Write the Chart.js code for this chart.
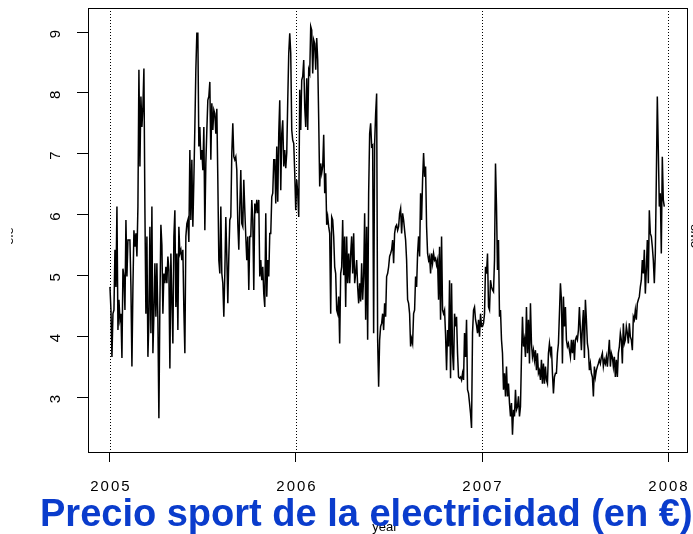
<!DOCTYPE html>
<html>
<head>
<meta charset="utf-8">
<script src="https://cdn.jsdelivr.net/npm/chart.js@4.4.0/dist/chart.umd.min.js"></script>
<style>
html, body { margin: 0; padding: 0; background: #fff; overflow: hidden; }
#wrap { position: relative; width: 693px; height: 534px; }
</style>
</head>
<body>
<div id="wrap"><canvas id="chart" width="693" height="534"></canvas></div>
<script>
// precio spot, una observación cada ~2 días
const yearTicks = [2005, 2006, 2007, 2008];
const priceTicks = [3, 4, 5, 6, 7, 8, 9];
const firstObs = 2005.0;
const lastObs = 2007.98;

const price2005a = [
    4.81, 4.43, 3.66, 4.37, 4.43, 5.42, 4.81, 6.13, 4.10, 4.60,
    4.27, 4.37, 3.64, 5.11, 4.98, 4.43, 5.91, 4.98, 5.58, 5.58,
    5.58, 4.81, 3.50, 4.81, 5.74, 5.47, 5.69, 5.31, 6.13, 8.38,
    6.79, 7.94, 7.44, 7.77, 8.40, 6.07, 4.37, 5.64, 3.66, 4.27,
    5.80, 4.05, 6.13, 3.72, 4.37, 5.20, 4.32, 5.20, 4.27, 2.65,
    4.54, 5.83, 5.50, 4.37, 5.03, 4.87, 5.14, 4.87, 5.31, 5.09,
    3.47, 5.36, 4.60, 3.88, 5.64, 6.07, 4.48, 5.36, 4.10, 5.80,
    5.36, 5.42, 5.25, 5.42, 4.43, 3.72, 5.64, 5.85, 5.91, 5.55,
    7.06, 5.91, 6.90, 5.80, 6.57, 7.44, 8.38, 8.98, 8.98, 7.12,
    7.44, 6.90, 7.06, 6.73, 7.44
];
const price2005b = [
    5.74, 6.84, 7.39, 7.88, 7.94, 8.18, 6.90, 7.83, 7.39, 7.72,
    7.66, 7.33, 7.74, 6.57, 5.25, 5.03, 6.13, 5.03, 4.87, 4.32,
    5.03, 5.96, 5.31, 4.54, 5.31, 5.91, 5.96, 7.01, 7.50, 6.95,
    6.90, 6.95, 6.73, 5.85, 5.42, 6.13, 6.73, 5.85, 5.80, 6.57,
    6.07, 5.64, 5.25, 5.64, 4.76, 5.64, 5.64, 6.24, 5.91, 4.76,
    6.18, 6.02, 6.24, 6.02, 6.24, 4.98, 5.25, 4.92, 5.14, 4.70,
    4.48, 6.02, 4.65, 5.25, 4.98, 5.69, 5.69, 6.29, 6.35, 6.90,
    6.90, 6.18, 7.12, 6.21, 7.33, 7.88, 6.40, 7.33, 7.55, 6.79,
    7.06, 6.76, 7.01, 7.88, 8.65, 8.98, 8.65, 7.39, 7.22, 7.17,
    6.68, 6.07, 6.57, 6.35, 5.96
];
const price2006a = [
    8.05, 7.39, 8.21, 8.27, 8.54, 7.77, 7.44, 8.24, 7.39, 8.38,
    8.32, 9.09, 9.03, 8.32, 8.87, 8.81, 8.38, 8.90, 8.54, 7.55,
    6.46, 6.84, 6.68, 6.79, 7.31, 6.35, 6.68, 5.83, 5.96, 5.80,
    5.69, 4.37, 5.96, 5.91, 5.64, 5.14, 5.03, 4.43, 4.37, 4.65,
    3.88, 5.03, 5.14, 5.91, 5.00, 5.64, 4.48, 5.64, 4.87, 5.36,
    4.87, 5.36, 5.64, 5.03, 5.69, 4.87, 5.03, 5.25, 4.81, 4.54,
    4.87, 4.57, 5.20, 4.60, 4.98, 6.02, 4.27, 5.80, 3.94, 6.35,
    7.33, 7.50, 7.12, 7.14, 4.05, 7.17, 7.66, 7.99, 3.94, 3.17,
    3.94, 4.16, 4.21, 4.37, 4.10, 4.54, 4.32, 4.98, 5.03, 5.14,
    5.31, 5.36, 5.42, 5.58, 5.20
];
const price2006b = [
    5.69, 5.80, 5.83, 5.74, 5.80, 6.02, 6.10, 5.69, 6.02, 5.91,
    5.74, 5.58, 5.25, 4.60, 4.54, 4.37, 3.83, 3.96, 3.88, 4.37,
    4.43, 4.98, 4.81, 5.36, 5.64, 5.31, 6.35, 5.91, 6.57, 7.01,
    6.62, 6.79, 5.80, 5.36, 5.25, 5.31, 5.03, 5.36, 5.20, 5.36,
    5.25, 5.28, 5.17, 5.25, 4.60, 5.47, 4.27, 5.64, 4.43, 4.37,
    4.43, 4.02, 3.44, 4.10, 3.83, 4.92, 3.31, 4.87, 3.72, 3.44,
    4.37, 4.16, 4.32, 3.72, 3.33, 3.31, 3.33, 3.28, 3.39, 3.28,
    4.05, 3.66, 4.27, 3.12, 3.06, 2.90, 2.73, 2.49, 4.05, 4.43,
    4.48, 4.27, 4.18, 4.05, 4.27, 3.99, 4.37, 4.16, 4.16, 4.21,
    4.37, 5.14, 5.03, 5.36, 4.48
];
const price2007a = [
    4.43, 4.92, 4.81, 4.76, 4.73, 5.25, 6.84, 6.13, 5.09, 5.58,
    4.32, 4.43, 3.94, 3.72, 3.12, 3.39, 3.01, 3.50, 3.01, 3.22,
    2.90, 2.68, 2.90, 2.38, 2.79, 2.68, 3.12, 2.79, 2.84, 3.01,
    2.68, 2.84, 3.66, 4.32, 3.83, 3.94, 3.66, 4.48, 3.72, 4.27,
    3.55, 4.54, 3.88, 3.66, 3.77, 3.61, 3.77, 3.44, 3.72, 3.39,
    3.44, 3.28, 3.61, 3.22, 3.55, 3.22, 3.50, 3.28, 3.22, 3.72,
    3.88, 3.72, 3.83, 3.39, 3.06, 3.33, 3.39, 3.39, 3.72, 3.88,
    4.37, 4.87, 4.60, 3.55, 4.65, 4.16, 4.48, 3.94, 3.83, 3.88,
    3.77, 3.66, 3.94, 3.72, 3.94, 3.61, 3.94, 3.99, 3.94, 4.10,
    4.48, 4.10, 3.77, 4.16, 4.43
];
const price2007b = [
    3.64, 4.60, 4.27, 3.88, 3.77, 3.44, 3.55, 3.39, 3.33, 3.01,
    3.50, 3.33, 3.44, 3.50, 3.55, 3.61, 3.55, 3.66, 3.72, 3.50,
    3.61, 3.55, 3.66, 3.50, 3.72, 3.94, 3.50, 3.72, 3.66, 3.50,
    3.66, 3.33, 3.61, 3.33, 3.72, 3.83, 4.05, 3.94, 3.55, 4.21,
    3.88, 3.94, 4.16, 4.05, 3.88, 4.21, 3.99, 3.94, 3.77, 4.32,
    4.27, 4.43, 4.27, 4.54, 4.60, 4.65, 4.81, 4.92, 5.25, 5.03,
    5.42, 4.70, 5.09, 5.58, 4.87, 6.07, 5.69, 5.64, 5.47, 5.25,
    4.87, 5.36, 6.57, 7.94, 7.06, 6.13, 6.35, 5.36, 6.95, 6.24,
    6.13
];

const prices = [].concat(price2005a, price2005b, price2006a, price2006b, price2007a, price2007b);
const step = (lastObs - firstObs) / (prices.length - 1);
const points = prices.map((v, i) => ({ x: firstObs + i * step, y: v }));

const FONT = '"Liberation Sans", Arial, Helvetica, sans-serif';

// ejes estilo R: líneas punteadas en cada año, caja, etiquetas giradas
const rStyle = {
    id: 'rStyle',
    beforeDatasetsDraw(chart) {
        const { ctx, chartArea: a, scales: { x } } = chart;
        ctx.save();
        ctx.strokeStyle = '#000';
        ctx.lineWidth = 1;
        ctx.setLineDash([1, 2]);
        yearTicks.forEach(yr => {
            const px = Math.round(x.getPixelForValue(yr)) + 0.5;
            ctx.beginPath();
            ctx.moveTo(px, a.top);
            ctx.lineTo(px, a.bottom);
            ctx.stroke();
        });
        ctx.restore();
    },
    afterDraw(chart) {
        const { ctx, chartArea: a, scales: { x, y } } = chart;
        ctx.save();
        ctx.strokeStyle = '#000';
        ctx.lineWidth = 1;
        ctx.strokeRect(a.left + 0.5, a.top + 0.5, a.right - a.left, a.bottom - a.top);

        ctx.fillStyle = '#000';
        ctx.font = '15px ' + FONT;
        ctx.letterSpacing = '2px';
        ctx.textAlign = 'center';
        ctx.textBaseline = 'middle';
        yearTicks.forEach(yr => {
            ctx.fillText(String(yr), x.getPixelForValue(yr) + 1, 487);
        });
        priceTicks.forEach(p => {
            ctx.save();
            ctx.translate(56, y.getPixelForValue(p) + 1);
            ctx.rotate(-Math.PI / 2);
            ctx.fillText(String(p), 0, 0);
            ctx.restore();
        });
        ctx.letterSpacing = '0px';

        // títulos de eje recortados en los bordes
        ctx.font = '13px ' + FONT;
        ctx.save();
        ctx.beginPath();
        ctx.rect(11, 200, 20, 80);
        ctx.clip();
        ctx.translate(9, 236);
        ctx.rotate(-Math.PI / 2);
        ctx.fillText('ele', 0, 0);
        ctx.restore();
        ctx.save();
        ctx.translate(694, 236);
        ctx.rotate(-Math.PI / 2);
        ctx.fillText('owe', 0, 0);
        ctx.restore();
        ctx.fillText('year', 385, 527);

        ctx.font = 'bold 38px ' + FONT;
        ctx.fillStyle = '#0a3ccc';
        ctx.textAlign = 'left';
        ctx.textBaseline = 'alphabetic';
        ctx.fillText('Precio sport de la electricidad (en €) kWh', 40, 526);
        ctx.restore();
    }
};

new Chart(document.getElementById('chart'), {
    type: 'line',
    data: {
        datasets: [{
            data: points,
            borderColor: '#000',
            borderWidth: 1.5,
            pointRadius: 0,
            tension: 0,
            fill: false
        }]
    },
    options: {
        responsive: false,
        animation: false,
        devicePixelRatio: 1,
        layout: { padding: { top: 8, right: 6, left: 0, bottom: 0 } },
        plugins: { legend: { display: false }, tooltip: { enabled: false } },
        scales: {
            x: {
                type: 'linear',
                min: 2004.882,
                max: 2008.102,
                afterBuildTicks: s => { s.ticks = yearTicks.map(v => ({ value: v })); },
                afterFit: s => { s.height = 82; },
                ticks: { display: false },
                grid: { drawOnChartArea: false, drawTicks: true, tickLength: 10, color: '#000', lineWidth: 1 },
                border: { display: true, color: '#000', width: 1 }
            },
            y: {
                min: 2.096,
                max: 9.395,
                afterBuildTicks: s => { s.ticks = priceTicks.map(v => ({ value: v })); },
                afterFit: s => { s.width = 88; },
                ticks: { display: false },
                grid: { drawOnChartArea: false, drawTicks: true, tickLength: 11, color: '#000', lineWidth: 1 },
                border: { display: true, color: '#000', width: 1 }
            }
        }
    },
    plugins: [rStyle]
});
</script>
</body>
</html>
